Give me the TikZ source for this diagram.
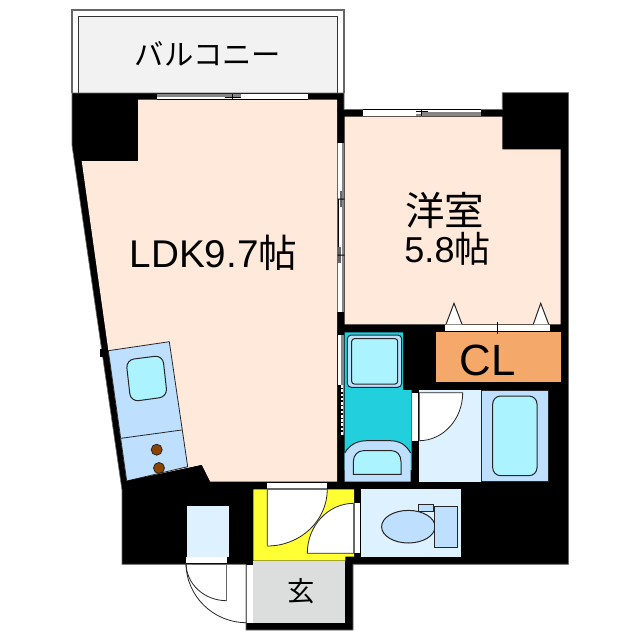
\documentclass[tikz,border=0pt]{standalone}
\usepackage{fontspec}
\setmainfont{Liberation Sans}
\newfontfamily\cjk{Noto Sans CJK JP}
\definecolor{room}{HTML}{FEE9DA}
\definecolor{wet}{HTML}{DEF1FF}
\definecolor{fixture}{HTML}{BFDFFF}
\definecolor{aqua}{HTML}{ABF3FF}
\definecolor{teal}{HTML}{22D0DD}
\definecolor{closet}{HTML}{F4A96A}
\definecolor{hall}{HTML}{FFFF33}
\definecolor{entry}{HTML}{DCDDDD}
\definecolor{balc}{HTML}{F2F2F2}
\definecolor{edge}{HTML}{666666}
\definecolor{burner}{HTML}{8B4500}
\tikzset{
  wall/.style={fill=black,draw=edge,line width=0.5pt},
  fx/.style={draw=black!85,line width=0.75pt},
  strip/.style={fill=white,draw=none},
  glass/.style={draw=edge,line width=1pt},
  thinline/.style={draw=black!85,line width=0.6pt},
  lbl/.style={inner sep=0pt,text=black}
}
\begin{document}
\begin{tikzpicture}[x=0.75pt,y=-0.75pt]
\useasboundingbox (0,0) rectangle (640,640);
\fill[white] (0,0) rectangle (640,640);
% balcony
\draw[edge,line width=1.5pt,fill=white] (72,93) -- (72,9.5) -- (344,9.5) -- (344,93);
\draw[black!80,line width=0.7pt,fill=balc] (78.5,93) -- (78.5,16.5) -- (337.5,16.5) -- (337.5,93) -- cycle;
% wall mass
\draw[wall] (72,93) -- (344,93) -- (344,109.5) -- (502.3,109.5) -- (502.3,92.7) -- (568.5,92.7) -- (568.5,564.3) -- (353,564.3) -- (353,630) -- (246,630) -- (246,564.3) -- (122,564.3) -- (122,490) -- (72,145) -- cycle;
\fill[black] (99.5,349) rectangle (104,357);
% LDK
\fill[room] (138,99.5) -- (337,99.5) -- (337,481.7) -- (210,481.7) -- (201.7,465) -- (126.7,481) -- (81.7,161) -- (138,161) -- cycle;
% room
\fill[room] (344.7,116.7) -- (502.3,116.7) -- (502.3,149.3) -- (560.7,149.3) -- (560.7,324.3) -- (344.7,324.3) -- cycle;
% balcony window
\fill[strip] (157,93.5) rectangle (308,99);
\fill[edge!80] (157,93.5) rectangle (232,96.5);
\fill[edge!80] (225,94) rectangle (241,96.5);
\draw[black,line width=0.5pt] (157,99.3) -- (308,99.3);
\draw[black,line width=0.5pt] (225,97.3) -- (241,97.3) (232.5,93.5) -- (232.5,99);
% room window
\fill[strip] (362.7,110) rectangle (480.7,116);
\fill[edge!80] (421.7,111.5) rectangle (480.7,116);
\fill[edge!80] (416,113.5) rectangle (421.7,116);
\draw[black,line width=0.5pt] (362.7,109.7) -- (480.7,109.7);
\draw[black,line width=0.5pt] (416,111.5) -- (428,111.5) (421.5,110) -- (421.5,116);
% sliding door LDK/room
\fill[strip] (337.7,143.3) rectangle (342.3,311.7);
\fill[edge!80] (342.3,143.3) rectangle (344.3,311.7);
\draw[edge,line width=0.75pt] (337.9,143.3) -- (337.9,311.7);
\draw[black,line width=0.6pt] (337.9,199) -- (337.9,255);
\fill[edge] (340,191) rectangle (341.5,207);
\fill[edge] (337.7,247) rectangle (340.7,263);
\fill[black] (337.5,198.5) rectangle (344.3,199.7) (337.5,254.5) rectangle (344.3,255.7);
% sliding door washroom
\fill[strip] (337.7,335) rectangle (340.7,385);
\fill[edge!80] (340.7,335) rectangle (344.3,385);
\fill[edge!80] (343,385) rectangle (344.3,435);
\draw[white,dash pattern=on 2pt off 1.2pt,line width=1.8pt] (341.8,385) -- (341.8,435);
% closet
\fill[closet] (435.7,332) rectangle (560.7,382.3);
\fill[strip] (445.3,325.3) rectangle (550,331.3);
\draw[black,line width=0.5pt] (497.3,322.3) -- (497.3,333.5);
\draw[fx,fill=white] (446,324.3) -- (454,303.3) -- (462,324.3);
\draw[fx,fill=white] (533.3,324.3) -- (540.7,303.3) -- (548.7,324.3);
% washroom
\fill[teal] (344.7,332.3) -- (403,332.3) -- (403,390) -- (411.7,390) -- (411.7,470) -- (344.7,470) -- cycle;
\draw[fx,fill=fixture,rounded corners=3pt] (347.3,335) rectangle (401.7,387.3);
\draw[fx,fill=aqua,rounded corners=2pt] (351.7,338.7) rectangle (397.7,384);
\fill[fixture] (344.7,481.7) -- (344.7,453) .. controls (350,444) and (358,440.7) .. (366.7,440.7) -- (390,440.7) .. controls (400,440.7) and (406,445) .. (410.7,453) -- (410.7,481.7) -- cycle;
\draw[fx] (344.7,453) .. controls (350,444) and (358,440.7) .. (366.7,440.7) -- (390,440.7) .. controls (400,440.7) and (406,445) .. (410.7,453);
\draw[fx,fill=aqua] (353.3,474.3) -- (353.3,461.7) .. controls (353.3,455) and (358,450.7) .. (363.3,450.7) -- (391.7,450.7) .. controls (397,450.7) and (401,455) .. (401,461.7) -- (401,474.3) -- cycle;
% bath
\fill[wet] (419,390) rectangle (481.7,481.7);
\fill[strip] (412.3,392.7) rectangle (418.3,440.7);
\draw[thinline,fill=white] (419,392.7) -- (462.7,392.7) .. controls (462.7,419.2) and (443.1,440.7) .. (419,440.7) -- cycle;
\draw[edge,line width=0.6pt] (419,392.7) -- (419,440.7);
\draw[fx,fill=fixture] (481.7,390) rectangle (548,481.7);
\draw[fx,fill=aqua,rounded corners=6pt] (492.7,396) rectangle (537,475.7);
% hall
\fill[hall] (253.3,489.3) -- (354,489.3) -- (354,556.7) -- (345.3,556.7) -- (345.3,560.7) -- (253.3,560.7) -- cycle;
\fill[strip] (267.3,482.7) rectangle (327.3,488);
\draw[thinline,fill=white] (267.3,489.3) -- (327.3,489.3) .. controls (327.3,520.6) and (300.4,546) .. (267.3,546) -- cycle;
\draw[edge,line width=1pt] (267.3,489) -- (327.3,489) (267.3,489.3) -- (267.3,546);
\fill[strip] (354,503.3) rectangle (360,553.3);
\draw[thinline,fill=white] (354,503.3) .. controls (328.2,503.3) and (307.3,525.7) .. (307.3,553.3) -- (354,553.3) -- cycle;
\draw[edge,line width=1pt] (354,503.3) -- (354,553.3);
% entry
\fill[entry] (253.3,561.2) rectangle (345.3,622.7);
% entrance doors
\fill[strip] (246.5,564.8) rectangle (253,622.5);
\draw[edge,line width=1pt] (246.5,564.8) -- (246.5,622.5);
\draw[thinline] (186,563) .. controls (186,596) and (213.2,622.7) .. (246.7,622.7);
\draw[thinline] (186,563) .. controls (186,583.8) and (204.2,600.7) .. (226.7,600.7);
\fill[strip] (186,557.3) rectangle (226.7,563.3);
\draw[edge,line width=1pt] (192,564.3) -- (226.7,564.3) -- (226.7,600.7);
% meter box
\fill[wet] (186.7,506) rectangle (229.3,557.3);
% kitchen
\draw[thinline,fill=fixture] (108.3,350.7) -- (169.3,341.7) -- (187.7,466.7) -- (126.7,481) -- cycle;
\draw[thinline] (121,438.3) -- (181.7,430);
\draw[fx,fill=aqua,rounded corners=6pt] (126,360) -- (162.7,355.3) -- (167.3,396.7) -- (130.7,401.7) -- cycle;
\draw[thinline,fill=burner] (156.7,449.7) circle[radius=5.5];
\draw[thinline,fill=burner] (159,468) circle[radius=5.5];
\fill[black] (126.7,481) -- (201.7,465) -- (210,481.7) -- (130,484) -- cycle;
% toilet
\fill[wet] (361,489.3) rectangle (461,556.7);
\draw[fx,fill=fixture] (408.3,526.7) ellipse[x radius=26.7,y radius=16.3];
\draw[fx,fill=fixture] (418,504.3) rectangle (433.3,511.3);
\draw[fx,fill=fixture] (434,506.7) rectangle (457,547.7);
% labels
\node[lbl,font=\cjk\fontsize{22}{22}\selectfont] (balcony) at (208,54) {バルコニー};
\node[lbl,font=\fontsize{29}{29}\selectfont] (ldk) at (213.5,253) {LDK9.7{\cjk 帖}};
\node[lbl,font=\cjk\fontsize{29.6}{29.6}\selectfont] (yoshitsu) at (444.5,210) {洋室};
\node[lbl,font=\fontsize{27}{27}\selectfont] (area) at (447.5,249) {5.8{\cjk 帖}};
\node[lbl,font=\fontsize{32.8}{32.8}\selectfont] (cl) at (487.5,360) {CL};
\node[lbl,font=\cjk\fontsize{20.5}{20.5}\selectfont] (genkan) at (301,591) {玄};
\end{tikzpicture}
\end{document}
